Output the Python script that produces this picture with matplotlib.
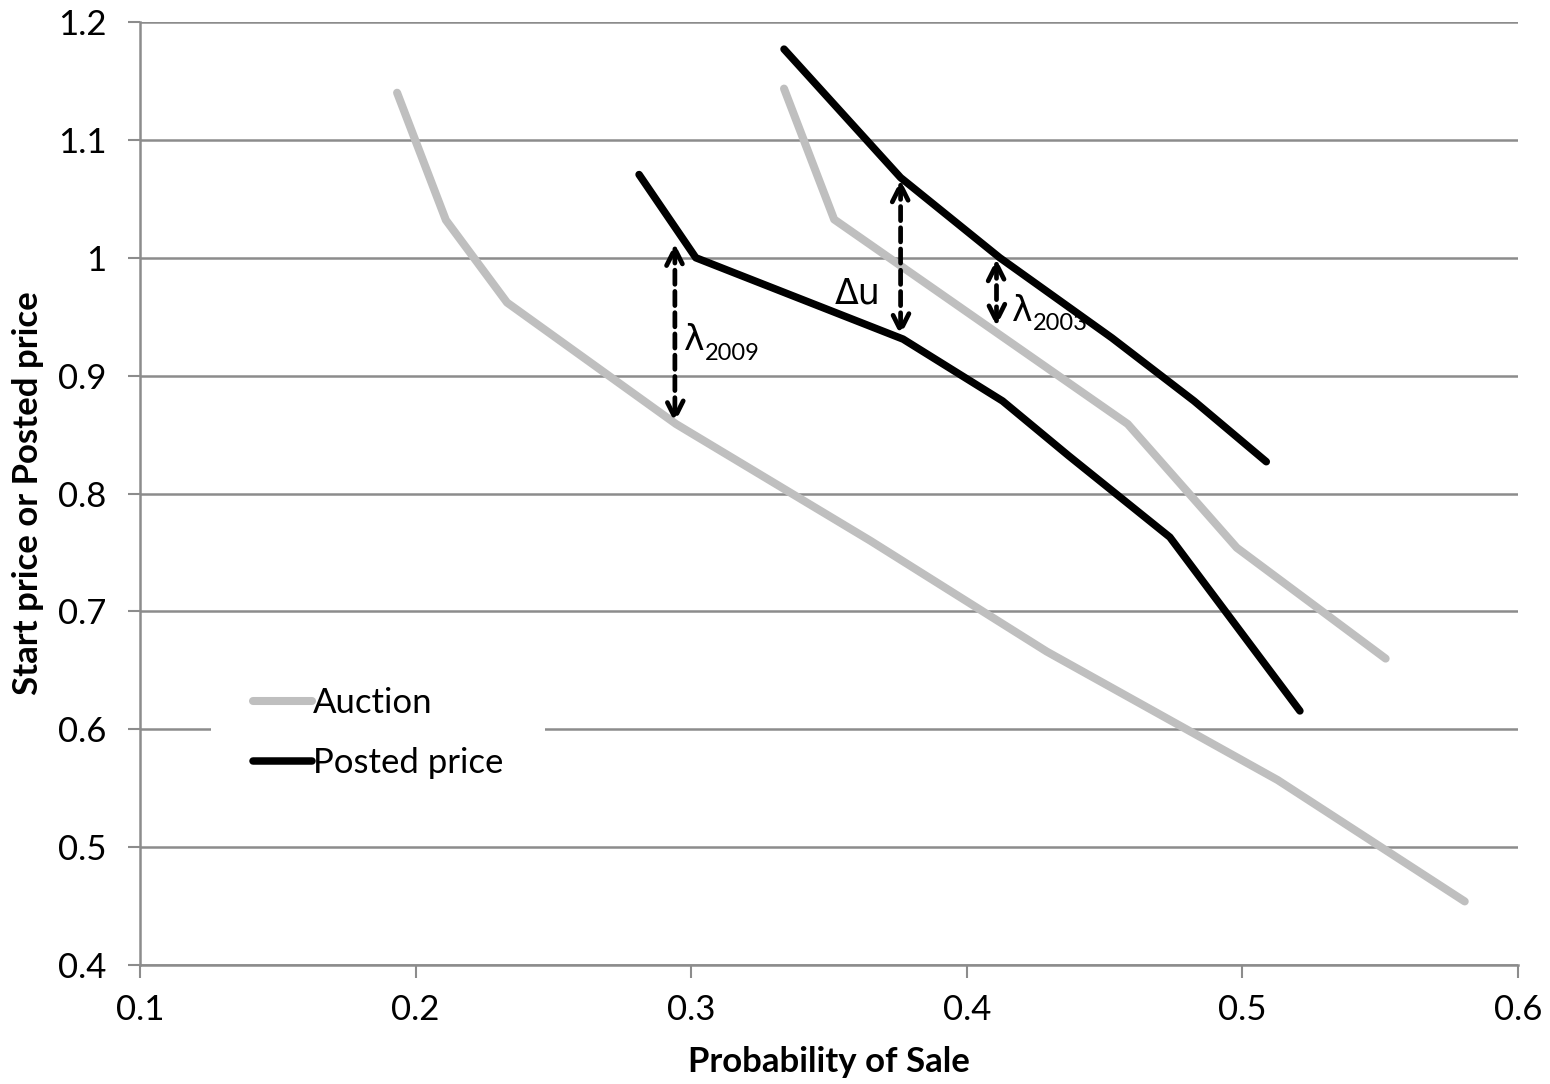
import matplotlib
matplotlib.use("Agg")
from matplotlib import pyplot as plt

# Auction curves (lower: 2009, upper: 2003)
auction_a_x = [0.1933, 0.2110, 0.2332, 0.2945, 0.3650, 0.4290, 0.5128, 0.5807]
auction_a_y = [1.140, 1.032, 0.962, 0.859, 0.760, 0.666, 0.557, 0.454]
auction_b_x = [0.3337, 0.3519, 0.4584, 0.4980, 0.5520]
auction_b_y = [1.1435, 1.0325, 0.859, 0.754, 0.660]

# Posted price curves
posted_a_x = [0.2811, 0.3017, 0.3769, 0.4130, 0.4370, 0.4737, 0.5209]
posted_a_y = [1.0706, 1.000, 0.931, 0.8785, 0.832, 0.763, 0.6156]
posted_b_x = [0.3337, 0.3760, 0.4120, 0.4527, 0.4825, 0.5087]
posted_b_y = [1.177, 1.068, 1.000, 0.932, 0.8785, 0.827]

# gap arrows: (x, y_low, y_high)
arrows = [(0.2941, 0.860, 1.012), (0.3760, 0.934, 1.066), (0.4108, 0.942, 0.999)]

xticks = [0.1, 0.2, 0.3, 0.4, 0.5, 0.6]
yticks = [0.4, 0.5, 0.6, 0.7, 0.8, 0.9, 1.0, 1.1, 1.2]
ytick_labels = ['0.4', '0.5', '0.6', '0.7', '0.8', '0.9', '1', '1.1', '1.2']

plt.rcParams['font.family'] = ['Lato', 'DejaVu Sans']
grid_col = '#8c8c8c'
gray = '#bfbfbf'

fig = plt.figure(figsize=(15.5, 10.84), dpi=100)
ax = fig.add_axes([0.0903, 0.1097, 0.8890, 0.8700])

ax.plot(auction_a_x, auction_a_y, color=gray, lw=5.8, solid_capstyle='round', label='Auction', zorder=3)
ax.plot(auction_b_x, auction_b_y, color=gray, lw=5.8, solid_capstyle='round', zorder=3)
ax.plot(posted_a_x, posted_a_y, color='black', lw=5.4, solid_capstyle='round', label='Posted price', zorder=4)
ax.plot(posted_b_x, posted_b_y, color='black', lw=5.4, solid_capstyle='round', zorder=4)

for x, lo, hi in arrows:
    ax.annotate('', xy=(x, lo), xytext=(x, hi),
                arrowprops=dict(arrowstyle='<->', color='black', lw=3.4, linestyle=(0, (3, 1.5)),
                                mutation_scale=30, shrinkA=0, shrinkB=0), zorder=5)

# labels for the gaps: upright lambda with subscript year
gap_labels = [(0.2975, 0.930, '2009'), (0.4165, 0.955, '2003')]
for x, y, yr in gap_labels:
    lam = ax.text(x, y, 'λ', fontsize=25, va='center', ha='left', zorder=6,
                  family=['DejaVu Sans'])
    ax.annotate(yr, xy=(1.0, 0.0), xycoords=lam, xytext=(0, 3), textcoords='offset points',
                fontsize=17, va='center', ha='left', zorder=6)
ax.text(0.3605, 0.970, 'Δu', fontsize=25, va='center', ha='center', zorder=6,
        family=['DejaVu Sans'])

ax.set_xlim(0.1, 0.6)
ax.set_ylim(0.4, 1.2)
ax.set_xticks(xticks)
ax.set_xticklabels([str(t) for t in xticks])
ax.set_yticks(yticks)
ax.set_yticklabels(ytick_labels)
ax.yaxis.grid(True, color=grid_col, lw=1.8)
ax.set_axisbelow(True)
for s in ['top', 'right']:
    ax.spines[s].set_visible(False)
for s in ['left', 'bottom']:
    ax.spines[s].set_color(grid_col)
    ax.spines[s].set_linewidth(1.8)
ax.tick_params(axis='both', colors=grid_col, labelcolor='black', labelsize=25, length=9, width=1.5)
ax.tick_params(axis='x', pad=12)
ax.tick_params(axis='y', pad=15)

ax.set_xlabel('Probability of Sale', fontsize=25, fontweight='bold', labelpad=14)
ax.set_ylabel('Start price or Posted price', fontsize=25, fontweight='bold', labelpad=10)

leg = ax.legend(loc='center left', bbox_to_anchor=(0.0515, 0.246), fontsize=25, frameon=True,
                handlelength=1.7, handletextpad=0.05, labelspacing=0.8, borderpad=1.2,
                borderaxespad=0.0)
leg.get_frame().set_facecolor('white')
leg.get_frame().set_edgecolor('none')
leg.get_frame().set_alpha(1.0)
for line in leg.get_lines():
    line.set_solid_capstyle('round')

plt.savefig('out.png', dpi=100)
plt.close()
